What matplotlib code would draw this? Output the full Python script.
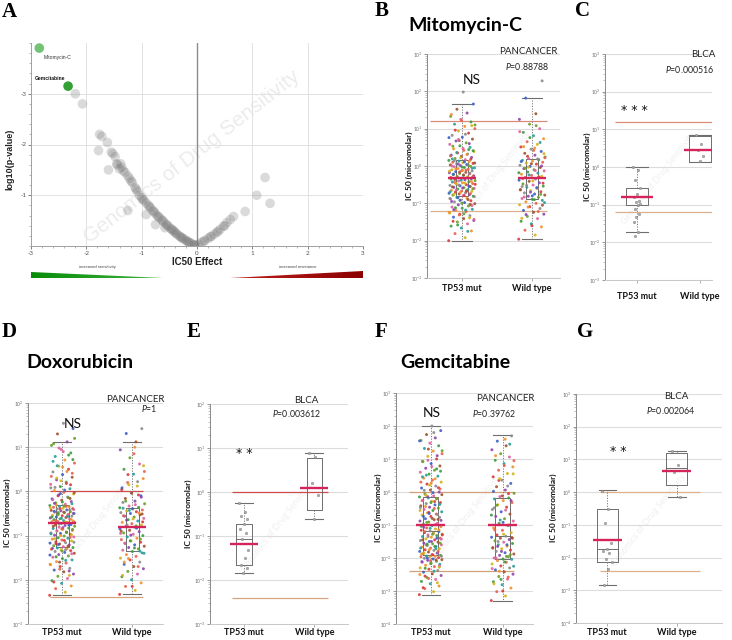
import numpy as np
import matplotlib
matplotlib.use("Agg")
import matplotlib.pyplot as plt
from matplotlib.ticker import MultipleLocator, FixedLocator, NullFormatter, LogLocator, FuncFormatter
from matplotlib.colors import LinearSegmentedColormap

plt.rcParams['font.family'] = ['Lato', 'DejaVu Sans']
plt.rcParams['mathtext.fontset'] = 'custom'
plt.rcParams['mathtext.rm'] = 'Lato'
plt.rcParams['mathtext.it'] = 'Lato:italic'
plt.rcParams['mathtext.bf'] = 'Lato:bold'

# ---------------- data ----------------
# Panel A: volcano (IC50 effect vs log10 p-value)
volcano_effect = [-2.20, -2.07, -1.76, -1.72, -1.78, -1.62, -1.52, -1.48, -1.45, -1.40,
                  -1.36, -1.30, -1.25, -1.22, -1.17, -1.12, -1.08, -1.04, -1.00, -0.96,
                  -0.92, -0.88, -0.84, -0.80, -0.76, -0.72, -0.68, -0.64, -0.60, -0.56,
                  -0.52, -0.48, -0.44, -0.40, -0.36, -0.32, -0.28, -0.24, -0.20, -0.16,
                  -0.12, -0.08, -0.05, -0.02, -0.75, -0.92, -1.25, -0.58, -0.42, -0.30,
                  -0.18, -1.38, -1.60, 0.03, 0.08, 0.14, 0.20, 0.26, 0.31, 0.36,
                  0.42, 0.48, 0.54, 0.60, 0.66, 0.87, 1.08, 1.23, 1.32,
                  -1.55, -1.44, -1.33, -1.19, -1.10, -0.98, -0.86, -0.78, -0.70, -0.62,
                  -0.54, -0.46, -0.38, -0.26, -0.14, -0.04, 0.12, 0.24, 0.38, 0.50]
volcano_logp = [-3.00, -2.80, -2.20, -2.16, -1.88, -2.04, -1.82, -1.76, -1.62, -1.52,
                -1.55, -1.45, -1.38, -1.33, -1.25, -1.15, -1.08, -1.00, -0.95, -0.90,
                -0.85, -0.80, -0.75, -0.70, -0.65, -0.60, -0.56, -0.52, -0.47, -0.43,
                -0.39, -0.35, -0.31, -0.27, -0.23, -0.20, -0.17, -0.14, -0.11, -0.08,
                -0.06, -0.04, -0.02, -0.01, -0.42, -0.62, -0.70, -0.36, -0.30, -0.18,
                -0.10, -1.62, -1.50, -0.03, -0.07, -0.11, -0.15, -0.19, -0.23, -0.27,
                -0.33, -0.39, -0.46, -0.52, -0.58, -0.68, -1.00, -1.35, -0.84,
                -1.85, -1.60, -1.48, -1.28, -1.12, -0.92, -0.78, -0.68, -0.58, -0.50,
                -0.41, -0.33, -0.25, -0.15, -0.07, -0.02, -0.09, -0.18, -0.29, -0.40]
hl_names = ["Mitomycin-C", "Gemcitabine"]
hl_effect = [-2.85, -2.33]
hl_logp = [-3.90, -3.15]

categories = ["TP53 mut", "Wild type"]
drug_titles = ["Mitomycin-C", "Doxorubicin", "Gemcitabine"]

# IC50 values, log10(micromolar) x 100
mito_pan_mut = [-200, -192, -181, -174, -166, -161, -155, -150, -146, -141, -137, -133, -129, -126, -122,
                -119, -116, -113, -110, -107, -104, -101, -98, -96, -93, -91, -88, -86, -84, -81,
                -80, -78, -77, -75, -73, -72, -70, -68, -67, -65, -63, -62, -60, -58, -57,
                -55, -53, -52, -50, -48, -47, -45, -43, -42, -40, -39, -37, -36, -34, -33,
                -31, -29, -28, -26, -25, -23, -21, -20, -18, -17, -15, -13, -12, -10, -9,
                -7, -5, -4, -2, -1, 1, 3, 4, 6, 7, 9, 10, 12, 13, 15,
                17, 20, 23, 26, 29, 32, 35, 39, 42, 46, 50, 54, 58, 62, 67,
                72, 77, 82, 88, 94, 100, 106, 112, 118, 125, 133, 142, 152, 166, 198,
                -148, -139, -131, -124, -118, -112, -106, -100, -95, -90, -85, -82, -79, -76, -74,
                -71, -69, -66, -64, -61, -59, -56, -54, -51, -49, -46, -44, -41, -38, -35,
                -32, -30, -27, -24, -22, -19, -16, -14, -11, -8, -6, -3, 0, 2, 5,
                8, 11, 14, 18, 22, 27, 31, 36, 41, 47, 53, 60, 68, 76, 85,
                96, 108, 122, 138, -175, -158, -143, -128, -117, -103, -92, -87, -68, -47, -29,
                -12, 19, 44, 71, 110]
mito_pan_wt = [-196, -185, -172, -163, -155, -148, -141, -135, -129, -124, -119, -114, -109, -104, -100, -96, -92, -89,
               -87, -84, -81, -78, -75, -72, -69, -66, -63, -60, -57, -54, -51, -48, -45, -41, -38, -35,
               -31, -28, -25, -22, -19, -16, -13, -10, -7, -4, -1, 2, 5, 8, 10, 13, 15, 17,
               20, 24, 29, 34, 39, 45, 51, 58, 65, 73, 81, 90, 100, 112, 125, 140, 182, 228,
               -160, -140, -122, -110, -98, -90, -83, -76, -70, -64, -58, -52, -46, -40, -34, -29, -24, -18,
               -12, -6, 0, 6, 12, 19, 26, 33, 42, 52, 63, 76, 92, 108, -130, -105, -80, -55, -30, -3, 22, 48]
mito_blca_mut = [0, -8, -35, -55, -71, -80, -89, -93, -97, -102, -111, -124, -133, -147, -172, -182]
mito_blca_wt = [86, 60, 46, 28, 16]

doxo_pan_mut = [-235, -228, -220, -214, -208, -202, -197, -192, -187, -182, -178, -174, -170, -166, -162,
                -159, -155, -152, -149, -146, -143, -140, -138, -136, -134, -132, -131, -130, -128, -127,
                -125, -123, -121, -119, -117, -116, -114, -112, -110, -108, -106, -105, -103, -101, -99,
                -97, -95, -94, -92, -90, -88, -86, -84, -83, -81, -79, -77, -76, -75, -73,
                -71, -70, -68, -67, -66, -64, -63, -62, -60, -59, -58, -56, -55, -54, -52,
                -51, -50, -48, -47, -46, -44, -43, -42, -40, -39, -38, -36, -35, -34, -32,
                -29, -26, -23, -20, -17, -13, -10, -6, -2, 2, 6, 11, 16, 21, 26,
                32, 38, 44, 50, 57, 64, 71, 79, 87, 95, 104, 112, 130, 142, 154,
                -205, -190, -176, -165, -156, -148, -141, -135, -129, -124, -120, -115, -111, -107, -104,
                -100, -96, -93, -89, -86, -82, -79, -76, -74, -71, -69, -66, -63, -61, -58,
                -55, -53, -50, -47, -45, -42, -39, -37, -34, -31, -28, -24, -19, -14, -8,
                -3, 3, 9, 15, 24, 34, 45, 58, 72, 90, 108, -180, -160, -144, -132,
                -118, -98, -85, -68, -57, -48, -41, -33, -27, -16, -5, 8, 18, 30, 41,
                55, 68, 82, 98, 120]
doxo_pan_wt = [-233, -224, -215, -207, -200, -193, -187, -181, -175, -170, -165, -160, -155, -151, -147, -143, -139, -136,
               -133, -130, -127, -124, -121, -118, -115, -112, -109, -106, -103, -100, -97, -94, -91, -88, -85, -82,
               -79, -76, -73, -70, -67, -64, -61, -58, -56, -53, -50, -48, -46, -44, -42, -40, -38, -36,
               -33, -28, -22, -16, -10, -3, 4, 12, 20, 29, 39, 50, 62, 76, 94, 112, 131, 142,
               -215, -190, -170, -152, -140, -128, -117, -108, -99, -90, -83, -76, -69, -62, -55, -49, -43, -37,
               -30, -22, -13, -4, 8, 22, 38, 58, 85, -160, -135, -112, -95, -78, -65, -51, -39, -25, -8, 15,
               45, 100]
doxo_blca_mut = [-24, -45, -55, -62, -72, -84, -94, -107, -131, -150, -165, -173, -183]
doxo_blca_wt = [88, 80, 20, -7, -61]

gem_pan_mut = [-311, -302, -293, -285, -278, -271, -265, -259, -253, -248, -243, -238, -234, -230, -226,
               -222, -219, -216, -213, -210, -207, -205, -203, -201, -199, -197, -196, -195, -194, -192,
               -190, -187, -185, -182, -180, -177, -175, -172, -170, -167, -165, -162, -160, -157, -155,
               -152, -150, -147, -145, -142, -140, -137, -135, -132, -130, -128, -125, -123, -120, -118,
               -116, -112, -109, -105, -102, -98, -95, -91, -88, -84, -81, -77, -74, -70, -67,
               -63, -60, -56, -53, -49, -46, -42, -39, -35, -32, -28, -25, -21, -18, -15,
               -12, -6, 0, 6, 12, 18, 24, 30, 36, 42, 48, 54, 60, 66, 72,
               79, 86, 93, 100, 108, 116, 124, 132, 140, 148, 156, 164, 174, 186, 200,
               -290, -275, -262, -250, -240, -231, -224, -217, -211, -206, -200, -195, -190, -185, -180,
               -175, -170, -165, -160, -155, -150, -145, -140, -135, -130, -125, -120, -115, -110, -104,
               -98, -92, -86, -80, -74, -68, -62, -56, -50, -44, -38, -32, -26, -20, -14,
               -8, -2, 5, 13, 21, 30, 40, 51, 63, 77, 92, 110, 130, 155, 180,
               -255, -228, -208, -188, -172, -158, -143, -128, -107, -83, -65, -47, -29, -10, 9,
               27, 46, 70, 96, 125]
gem_pan_wt = [-329, -315, -302, -291, -281, -272, -264, -256, -249, -242, -236, -230, -224, -218, -213, -208, -204, -203,
              -200, -196, -192, -188, -184, -180, -176, -172, -168, -164, -160, -156, -152, -148, -144, -140, -137, -134,
              -130, -123, -116, -109, -102, -95, -88, -81, -74, -67, -60, -53, -46, -39, -32, -26, -21, -18,
              -14, -4, 6, 16, 26, 36, 46, 56, 66, 76, 86, 96, 106, 116, 128, 140, 154, 170,
              -300, -278, -258, -240, -225, -212, -200, -190, -180, -170, -160, -150, -140, -128, -115, -100, -85, -70,
              -55, -40, -26, -12, 2, 18, 35, 55, 80, 110, 145, -265, -232, -195, -165, -138, -92, -48, -5, 40,
              95, 160]
gem_blca_mut = [5, -52, -95, -155, -175, -180, -185, -203, -213, -234, -283]
gem_blca_wt = [127, 82, 61, -16]

# box statistics (whisker low, Q1, median, Q3, whisker high), log10 x 100
mito_pan_box = [(-200, -80, -32, 16, 166), (-196, -88, -33, 18, 182)]
mito_blca_box = [(-172, -102, -80, -55, 0), (14, 14, 46, 81, 86)]
doxo_pan_box = [(-235, -126, -72, -31, 112), (-233, -135, -80, -37, 112)]
doxo_blca_box = [(-183, -167, -106, -72, -24), (-61, -42, 9, 78, 88)]
gem_pan_box = [(-311, -190, -117, -14, 200), (-329, -202, -133, -17, 172)]
gem_blca_box = [(-283, -213, -175, -52, 6), (-16, 21, 75, 119, 127)]
# red (mean) lines, log10 x 100
mito_pan_red = [-32, -33]
mito_blca_red = [-80, 46]
doxo_pan_red = [-72, -80]
doxo_blca_red = [-118, 9]
gem_pan_red = [-100, -100]
gem_blca_red = [-145, 64]
# screening concentration range (max, min), log10 x 100
mito_range = [120, -120]
doxo_range = [0, -240]
gem_range = [0, -240]

pan_labels = ["PANCANCER", "BLCA"]
pvals = ["0.88788", "0.000516", "1", "0.003612", "0.39762", "0.002064"]
signif = ["NS", "***", "NS", "**", "NS", "**"]

# ---------------- figure ----------------
W, H = 732, 640
fig = plt.figure(figsize=(W / 100, H / 100), dpi=100)


def rect(x0, y0, x1, y1):
    return [x0 / W, 1 - y1 / H, (x1 - x0) / W, (y1 - y0) / H]


def ftext(x, y, s, **kw):
    fig.text(x / W, 1 - y / H, s, **kw)


# ---- Panel A ----
axA = fig.add_axes(rect(31, 43, 363, 246))
axA.set_xlim(-3, 3)
axA.set_ylim(0, -4)
axA.set_xticks([-3, -2, -1, 0, 1, 2, 3])
axA.set_xticklabels(['-3', '-2', '-1', '0', '1', '2', '3'])
axA.set_yticks([-3, -2, -1])
axA.set_yticklabels(['-3', '-2', '-1'])
axA.xaxis.set_minor_locator(MultipleLocator(0.2))
axA.yaxis.set_minor_locator(MultipleLocator(0.2))
axA.grid(True, which='major', color='#e2e2e2', lw=0.7)
axA.set_axisbelow(True)
for s in ['top', 'right']:
    axA.spines[s].set_visible(False)
for s in ['left', 'bottom']:
    axA.spines[s].set_color('#a0a0a0')
    axA.spines[s].set_linewidth(0.7)
axA.tick_params(which='major', labelsize=4.5, colors='#505050', length=2, width=0.5, pad=1.5)
axA.tick_params(which='minor', length=1.2, width=0.4, colors='#808080')
axA.axvline(0, color='#8c8c8c', lw=1.0, zorder=1)
axA.text(-0.1, -1.75, "Genomics of Drug Sensitivity", rotation=38, fontsize=15,
         color='#ececec', ha='center', va='center', zorder=0, family=['Liberation Sans'])
axA.scatter(volcano_effect, volcano_logp, s=48, color='#7a7a7a', alpha=0.28,
            edgecolors='none', zorder=2)
axA.scatter(hl_effect[0], hl_logp[0], s=48, color='#74c274', edgecolors='none', zorder=3)
axA.scatter(hl_effect[1], hl_logp[1], s=48, color='#32a032', edgecolors='none', zorder=3)
axA.text(hl_effect[0] + 0.07, hl_logp[0] + 0.18, hl_names[0], fontsize=3.6, color='#333333',
         va='center', ha='left', family=['Liberation Sans'])
axA.text(hl_effect[1] - 0.6, hl_logp[1] - 0.15, hl_names[1], fontsize=3.6, color='#111111',
         va='center', ha='left', fontweight='bold', family=['Liberation Sans'])
ftext(197, 262, "IC50 Effect", fontsize=7, fontweight='bold', ha='center', va='center',
      family=['Liberation Sans'], color='#222222')
ftext(10, 159, "log10(p-value)", fontsize=6.5, fontweight='bold', ha='center', va='center',
      rotation=90, family=['Liberation Sans'], color='#222222')

# wedges
wa = fig.add_axes(rect(31, 268, 363, 280))
wa.axis('off')
gx = np.linspace(0, 1, 256).reshape(1, -1)
gcm = LinearSegmentedColormap.from_list('g', ['#0a8c0a', '#3cb43c'])
rcm = LinearSegmentedColormap.from_list('r', ['#c02020', '#8c0000'])
im1 = wa.imshow(gx, extent=[0, 0.398, 0, 1], aspect='auto', cmap=gcm)
tri1 = plt.Polygon([[0, 0.70], [0, 0.15], [0.398, 0.15]], closed=True,
                   transform=wa.transData, facecolor='none', edgecolor='none')
wa.add_patch(tri1)
im1.set_clip_path(tri1)
im2 = wa.imshow(gx, extent=[0.6, 1.0, 0, 1], aspect='auto', cmap=rcm)
tri2 = plt.Polygon([[0.6, 0.15], [1.0, 0.15], [1.0, 0.78]], closed=True,
                   transform=wa.transData, facecolor='none', edgecolor='none')
wa.add_patch(tri2)
im2.set_clip_path(tri2)
wa.set_xlim(0, 1)
wa.set_ylim(0, 1)
ftext(97, 267, "increased sensitivity", fontsize=3, ha='center', va='center', color='#444444',
      family=['Liberation Sans'])
ftext(298, 267, "increased resistance", fontsize=3, ha='center', va='center', color='#444444',
      family=['Liberation Sans'])

# ---- box panels ----
palette = ['#d93a3a', '#3d9c3d', '#3c5fc4', '#f0902a', '#8e44ad', '#d4b21c', '#e0609e',
           '#8a8a8a', '#2a9d9d', '#a0522d', '#e8604c', '#6a9f2a']


def dec_fmt(v, _):
    return r'$10^{%d}$' % int(round(np.log10(v)))


def box_panel(r, mut, wt, box, red, rng, ylo, yhi, xlim, boxw, redw, capw, jit, dense,
              ref_span, ref_cols, lab_off, texts):
    ax = fig.add_axes(r)
    ax.set_yscale('log')
    ax.set_ylim(10.0 ** ylo, 10.0 ** yhi)
    ax.set_xlim(*xlim)
    ax.yaxis.set_major_locator(FixedLocator([10.0 ** k for k in range(ylo, yhi + 1)]))
    ax.yaxis.set_major_formatter(FuncFormatter(dec_fmt))
    ax.yaxis.set_minor_locator(LogLocator(base=10, subs=np.arange(2, 10), numticks=50))
    ax.yaxis.set_minor_formatter(NullFormatter())
    ax.tick_params(axis='y', which='major', labelsize=3.6, colors='#707070', length=2,
                   width=0.5, pad=1)
    ax.tick_params(axis='y', which='minor', length=1.1, width=0.4, colors='#909090')
    ax.set_xticks([1, 2])
    ax.set_xticklabels(['', ''])
    ax.tick_params(axis='x', length=2, width=0.5, colors='#909090')
    ax.yaxis.grid(True, which='major', color='#dcdcdc', lw=0.8)
    ax.set_axisbelow(True)
    for s in ['top', 'right']:
        ax.spines[s].set_visible(False)
    ax.spines['left'].set_color('#8a8a8a')
    ax.spines['left'].set_linewidth(0.7)
    ax.spines['bottom'].set_color('#c8c8c8')
    ax.spines['bottom'].set_linewidth(0.7)
    ax.text(0.5, 0.45, "Genomics of Drug Sensitivity", rotation=52, fontsize=6.5,
            color='#f0f0f0', ha='center', va='center', transform=ax.transAxes, zorder=0)

    # concentration range lines
    ax.hlines(10.0 ** (rng[0] / 100), ref_span[0], ref_span[1], color=ref_cols[0], lw=0.9, zorder=2)
    ax.hlines(10.0 ** (rng[1] / 100), ref_span[0], ref_span[1], color=ref_cols[1], lw=0.9, zorder=2)

    # points
    for pos, vals in zip([1, 2], [mut, wt]):
        v = 10.0 ** (np.array(vals) / 100.0)
        n = len(v)
        j = ((np.arange(n) * 0.6180339887) % 1.0 - 0.5) * 2 * jit
        if dense:
            cols = [palette[(i * 5) % len(palette)] for i in range(n)]
            ax.scatter(pos + j, v, s=4.5, c=cols, edgecolors='none', alpha=0.9, zorder=3)
        else:
            ax.scatter(pos + j, v, s=3.0, color='#b0b0b0', edgecolors='#707070',
                       linewidths=0.3, zorder=3)

    stats = []
    for b in box:
        stats.append(dict(whislo=10.0 ** (b[0] / 100), q1=10.0 ** (b[1] / 100),
                          med=10.0 ** (b[2] / 100), q3=10.0 ** (b[3] / 100),
                          whishi=10.0 ** (b[4] / 100), fliers=[]))
    ax.bxp(stats, positions=[1, 2], widths=boxw, capwidths=capw, showfliers=False,
           boxprops=dict(color='#6e6e6e', lw=0.7),
           whiskerprops=dict(color='#7a7a7a', lw=0.7, ls=(0, (1.2, 1.5))),
           capprops=dict(color='#6e6e6e', lw=0.8),
           medianprops=dict(color='#555555', lw=0.6), manage_ticks=False)
    for pos, rv in zip([1, 2], red):
        ax.hlines(10.0 ** (rv / 100), pos - redw / 2, pos + redw / 2, color='#d4245a',
                  lw=1.7, zorder=5)

    for pos, cat in zip([1, 2], categories):
        ax.annotate(cat, xy=(pos, 0), xycoords=('data', 'axes fraction'),
                    xytext=(0, -lab_off / 1.389), textcoords='offset points',
                    ha='center', va='center', fontsize=6.5, fontweight='bold', color='#111111')
    for (tx, ty, s, kw) in texts:
        ax.text(tx, ty, s, transform=ax.transAxes, **kw)
    return ax


def ptxt(p):
    return r'$\it{P}$' + '=' + p


kw_pan = dict(fontsize=7, ha='right', va='center', color='#222222')
kw_p = dict(fontsize=6.3, ha='center', va='center', color='#222222')
kw_ns = dict(fontsize=10, ha='center', va='center', color='#111111')
kw_st = dict(fontsize=9, ha='center', va='center', color='#111111', family=['DejaVu Sans'])

# B
box_panel(rect(427, 54, 560, 278), mito_pan_mut, mito_pan_wt, mito_pan_box, mito_pan_red,
          mito_range, -3, 3, (0.5, 2.4), 0.17, 0.40, 0.29, 0.19, True,
          (0.54, 2.21), ('#d98a78', '#dcb08c'), 11,
          [(0.985, 1.009, pan_labels[0], kw_pan), (0.75, 0.942, ptxt(pvals[0]), kw_p),
           (0.338, 0.884, signif[0], kw_ns)])
# C
box_panel(rect(605, 54, 712, 280), mito_blca_mut, mito_blca_wt, mito_blca_box, mito_blca_red,
          mito_range, -3, 3, (0.49, 2.19), 0.35, 0.50, 0.36, 0.06, False,
          (0.65, 2.19), ('#d98a78', '#dcb08c'), 17,
          [(1.03, 0.996, pan_labels[1], dict(kw_pan)), (0.79, 0.93, ptxt(pvals[1]), kw_p),
           (0.27, 0.75, "* * *", kw_st)])
# D
box_panel(rect(28, 403, 163, 624), doxo_pan_mut, doxo_pan_wt, doxo_pan_box, doxo_pan_red,
          doxo_range, -3, 2, (0.51, 2.44), 0.18, 0.40, 0.26, 0.18, True,
          (0.82, 2.15), ('#cf4a4a', '#d8a37c'), 9,
          [(1.015, 1.018, pan_labels[0], kw_pan), (0.963, 0.977, ptxt(pvals[2]),
                                                      dict(kw_p, ha='right')),
           (0.33, 0.905, signif[2], kw_ns)])
# E
box_panel(rect(210, 404, 348, 624), doxo_blca_mut, doxo_blca_wt, doxo_blca_box, doxo_blca_red,
          doxo_range, -3, 2, (0.516, 2.48), 0.22, 0.40, 0.25, 0.07, False,
          (0.83, 2.2), ('#cf4a4a', '#d8a37c'), 9,
          [(0.70, 1.018, pan_labels[1], dict(kw_pan, ha='center')),
           (0.625, 0.955, ptxt(pvals[3]), kw_p),
           (0.246, 0.777, "* *", kw_st)])
# F
box_panel(rect(396, 393, 533, 624), gem_pan_mut, gem_pan_wt, gem_pan_box, gem_pan_red,
          gem_range, -4, 3, (0.515, 2.42), 0.21, 0.40, 0.26, 0.16, True,
          (0.7, 2.15), ('#d4a07c', '#d4a07c'), 9,
          [(1.015, 0.978, pan_labels[0], kw_pan), (0.715, 0.913, ptxt(pvals[4]), kw_p),
           (0.263, 0.913, signif[4], kw_ns)])
# G
box_panel(rect(576, 394, 722, 623), gem_blca_mut, gem_blca_wt, gem_blca_box, gem_blca_red,
          gem_range, -4, 3, (0.55, 2.65), 0.30, 0.42, 0.25, 0.07, False,
          (0.89, 2.34), ('#e0b08c', '#e0b08c'), 10,
          [(0.685, 0.99, pan_labels[1], dict(kw_pan, ha='center')),
           (0.645, 0.93, ptxt(pvals[5]), kw_p),
           (0.29, 0.747, "* *", kw_st)])

# y labels for box panels
for (x, y) in [(409, 166), (587, 167), (7, 513), (188, 514), (378, 508), (553, 508)]:
    ftext(x, y, "IC 50 (micromolar)", fontsize=6, fontweight='bold', rotation=90,
          ha='center', va='center', color='#111111')

# titles
ftext(408, 25, drug_titles[0], fontsize=14, fontweight='bold', ha='left', va='center')
ftext(26, 363, drug_titles[1], fontsize=14, fontweight='bold', ha='left', va='center')
ftext(400, 363, drug_titles[2], fontsize=14, fontweight='bold', ha='left', va='center')

# panel letters
for (x, y, s) in [(2, 12, 'A'), (375, 11, 'B'), (575, 11, 'C'), (2, 332, 'D'),
                  (187, 332, 'E'), (375, 332, 'F'), (577, 332, 'G')]:
    ftext(x, y, s, fontsize=15, fontweight='bold', ha='left', va='center',
          family=['Liberation Serif'])

fig.savefig("out.png", dpi=100)
